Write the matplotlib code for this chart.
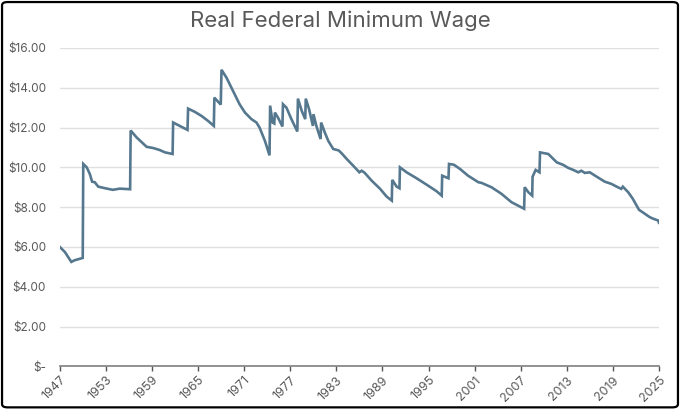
import matplotlib
matplotlib.use('Agg')
import matplotlib.pyplot as plt
from matplotlib.patches import FancyBboxPatch
from matplotlib.ticker import FuncFormatter

plt.rcParams['font.family'] = ['Inter', 'DejaVu Sans']

# real (inflation adjusted) federal minimum wage
years = [
    1947.0, 1947.65, 1948.5, 1948.9, 1949.98, 1950.05, 1950.5, 1950.9, 1951.2, 1951.55,
    1952.0, 1952.9, 1953.9, 1954.8, 1956.15, 1956.22, 1957.0, 1958.3, 1959.15, 1960.0,
    1960.7, 1961.68, 1961.75, 1962.6, 1963.62, 1963.7, 1964.6, 1965.45, 1966.3, 1967.05,
    1967.12, 1967.95, 1968.05, 1968.7, 1969.55, 1970.4, 1971.1, 1971.95, 1972.6, 1973.0,
    1973.7, 1974.3, 1974.38, 1974.7, 1974.92, 1975.0, 1975.4, 1975.98, 1976.05, 1976.5,
    1977.15, 1977.92, 1978.0, 1978.5, 1978.95, 1979.02, 1979.45, 1979.95, 1980.02, 1980.4,
    1980.95, 1981.02, 1981.5, 1981.95, 1982.6, 1983.3, 1983.7, 1984.35, 1985.2, 1986.0,
    1986.3, 1986.7, 1987.6, 1988.7, 1989.55, 1990.22, 1990.28, 1990.85, 1991.22, 1991.28,
    1992.15, 1993.45, 1994.75, 1996.05, 1996.72, 1996.78, 1997.6, 1997.67, 1998.3, 1999.1,
    2000.15, 2001.5, 2001.9, 2003.2, 2004.5, 2005.8, 2006.65, 2007.45, 2007.52, 2008.0,
    2008.5, 2008.55, 2008.95, 2009.45, 2009.52, 2010.6, 2011.25, 2011.7, 2012.55, 2013.2,
    2013.85, 2014.5, 2014.9, 2015.35, 2016.0, 2016.9, 2017.95, 2018.8, 2019.8, 2020.1,
    2020.3, 2021.0, 2021.6, 2022.4, 2023.15, 2023.8, 2024.25, 2024.9, 2025.0,
]
wage = [
    6.00, 5.75, 5.25, 5.33, 5.45, 10.17, 10.00, 9.67, 9.28, 9.25,
    9.03, 8.95, 8.87, 8.93, 8.90, 11.85, 11.50, 11.03, 10.97, 10.87,
    10.75, 10.67, 12.25, 12.08, 11.88, 12.95, 12.78, 12.58, 12.33, 12.08,
    13.50, 13.15, 14.90, 14.50, 13.83, 13.17, 12.75, 12.42, 12.25, 12.00,
    11.33, 10.60, 13.10, 12.25, 12.20, 12.75, 12.50, 12.05, 13.17, 13.00,
    12.42, 11.80, 13.45, 12.83, 12.42, 13.45, 12.92, 12.08, 12.67, 12.08,
    11.42, 12.25, 11.75, 11.33, 10.92, 10.85, 10.70, 10.42, 10.08, 9.75,
    9.83, 9.72, 9.33, 8.92, 8.53, 8.33, 9.37, 9.03, 8.95, 10.00,
    9.75, 9.45, 9.13, 8.80, 8.58, 9.58, 9.45, 10.17, 10.13, 9.92,
    9.58, 9.25, 9.22, 9.00, 8.67, 8.25, 8.08, 7.92, 9.00, 8.75,
    8.58, 9.53, 9.87, 9.75, 10.75, 10.67, 10.42, 10.25, 10.12, 9.97,
    9.87, 9.75, 9.83, 9.72, 9.75, 9.53, 9.28, 9.17, 8.97, 8.92,
    9.03, 8.75, 8.42, 7.87, 7.67, 7.50, 7.42, 7.33, 7.22,
]
year_ticks = list(range(1947, 2026, 6))
dollar_ticks = [0, 2, 4, 6, 8, 10, 12, 14, 16]


def dollars(v, pos):
    if v == 0:
        return '$-'
    return '${:.2f}'.format(v)


fig = plt.figure(figsize=(6.8, 4.09), dpi=100)
ax = fig.add_axes([0.088, 0.104, 0.881, 0.779])

ax.plot(years, wage, color='#56788f', lw=1.9, solid_joinstyle='miter')

ax.set_xlim(1947, 2025)
ax.set_ylim(0, 16)
ax.set_xticks(year_ticks)
ax.set_yticks(dollar_ticks)
ax.yaxis.set_major_formatter(FuncFormatter(dollars))
ax.grid(axis='y', color='#e0e0e0', lw=1)
ax.set_axisbelow(True)

for s in ['top', 'right', 'left']:
    ax.spines[s].set_visible(False)
ax.spines['bottom'].set_color('#7f7f7f')
ax.spines['bottom'].set_linewidth(1.2)

ax.tick_params(axis='y', length=0, pad=10, labelsize=8.5, labelcolor='#595959')
ax.tick_params(axis='x', length=3.5, width=1, color='#555555', labelsize=9,
               labelcolor='#595959', pad=2)
for lbl in ax.get_xticklabels():
    lbl.set_rotation(45)
    lbl.set_ha('right')
    lbl.set_rotation_mode('anchor')

fig.suptitle('Real Federal Minimum Wage', x=0.5, y=0.975, fontsize=16,
             color='#595959')

fig.patches.append(FancyBboxPatch((0.003, 0.004), 0.994, 0.991,
                                  boxstyle='round,pad=0,rounding_size=0.008',
                                  transform=fig.transFigure, fill=False,
                                  ec='black', lw=1.6))

plt.savefig('out.png', dpi=100)
